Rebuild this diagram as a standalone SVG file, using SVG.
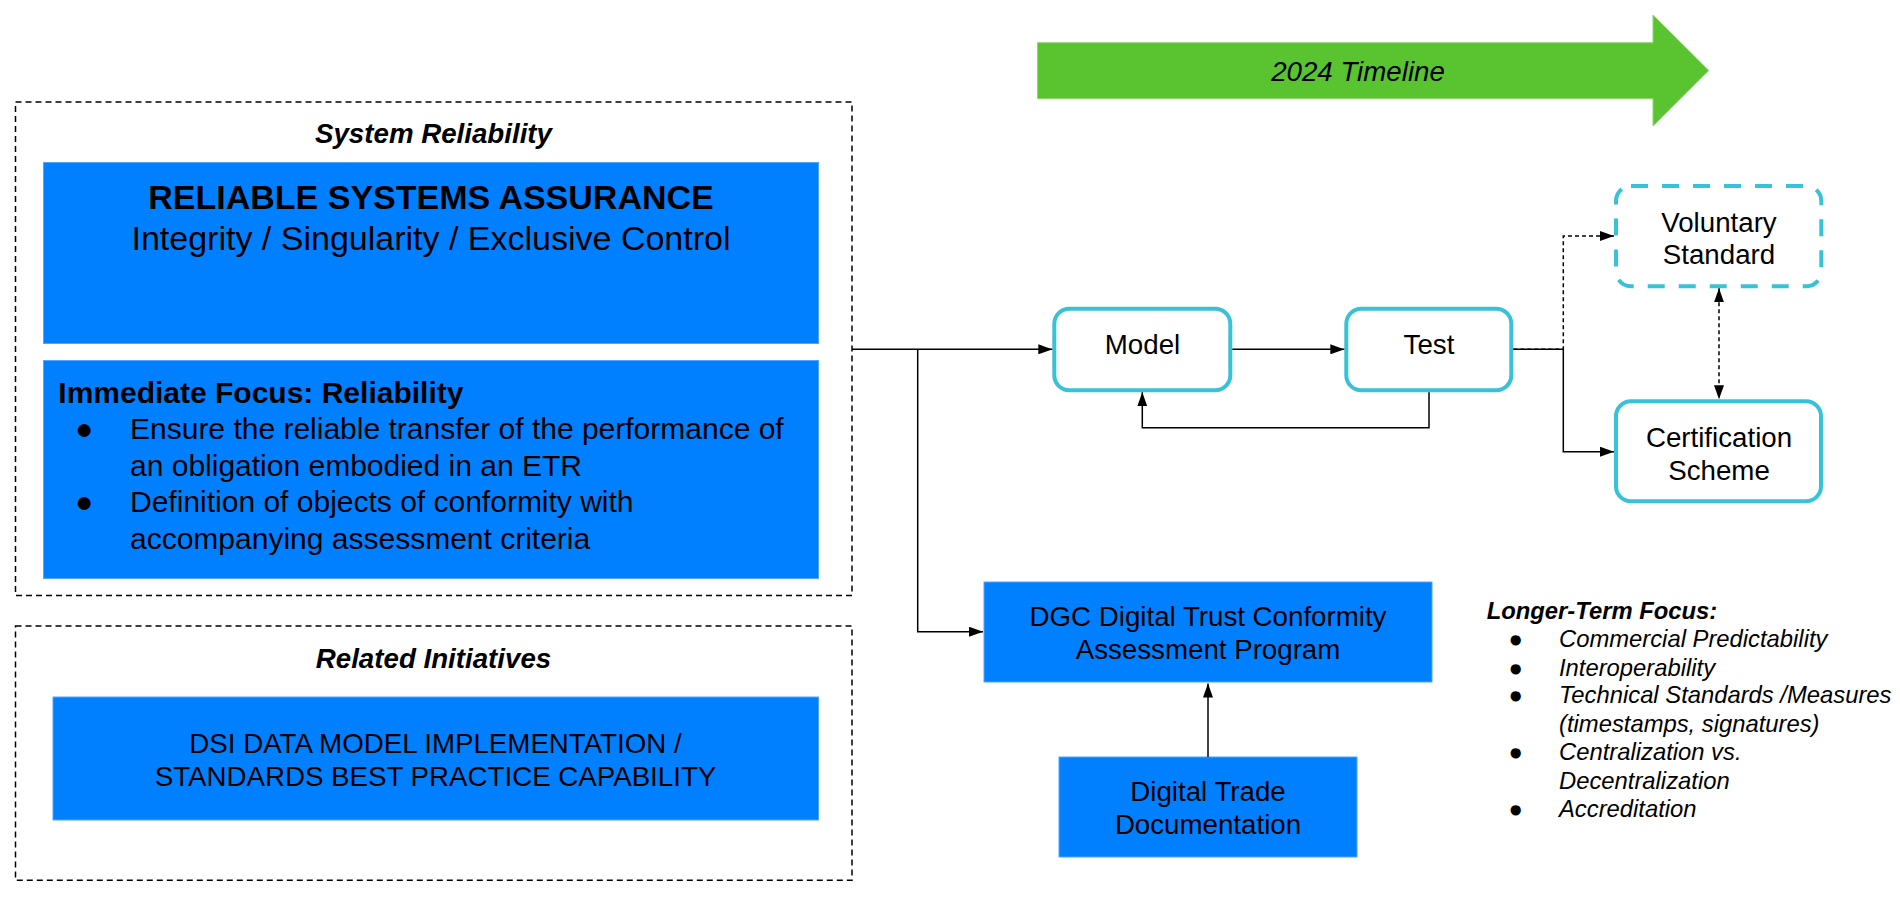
<svg xmlns="http://www.w3.org/2000/svg" width="1900" height="902" viewBox="0 0 1900 902">
<style>
text{font-family:"Liberation Sans",Arial,Helvetica,sans-serif;fill:#000}
.t{font-size:27.7px;text-anchor:middle}
.h{font-size:27.7px;font-weight:bold;font-style:italic;text-anchor:middle}
.blue{fill:#007FFF;stroke:#4fa6ff;stroke-width:1}
.grp{fill:none;stroke:#000;stroke-width:1.5;stroke-dasharray:6 4}
.node{fill:#fff;stroke:#37C2D8;stroke-width:4}
.c{fill:none;stroke:#000;stroke-width:1.5}
.cd{fill:none;stroke:#000;stroke-width:1.5;stroke-dasharray:4 3}
.lt{font-size:23.8px;font-style:italic}
</style>
<defs>
<marker id="ah" markerUnits="userSpaceOnUse" markerWidth="14" markerHeight="10" refX="14" refY="5" orient="auto">
<path d="M0,0 L14,5 L0,10 z" fill="#000"/>
</marker>
<marker id="ahs" markerUnits="userSpaceOnUse" markerWidth="14" markerHeight="10" refX="14" refY="5" orient="auto-start-reverse">
<path d="M0,0 L14,5 L0,10 z" fill="#000"/>
</marker>
</defs>
<rect width="1900" height="902" fill="#fff"/>

<g id="timeline">
<polygon points="1037.5,42.7 1653,42.7 1653,15 1708.8,70.5 1653,126 1653,98.7 1037.5,98.7" fill="#59C42F" stroke="#8ed66f" stroke-width="1"/>
<text x="1358" y="81" style="font-size:27.7px;font-style:italic;text-anchor:middle">2024 Timeline</text>
</g>

<g id="system-reliability">
<rect class="grp" x="15.5" y="102" width="836.5" height="493.5"/>
<text class="h" x="433.5" y="143.3">System Reliability</text>
</g>

<g id="reliable-systems-assurance">
<rect class="blue" x="43.5" y="162.5" width="775" height="181"/>
<text x="431" y="209" style="font-size:34px;font-weight:bold;text-anchor:middle">RELIABLE SYSTEMS ASSURANCE</text>
<text x="431" y="250" style="font-size:34px;text-anchor:middle">Integrity / Singularity / Exclusive Control</text>
</g>

<g id="immediate-focus">
<rect class="blue" x="43.5" y="360.5" width="775" height="218"/>
<text x="58.3" y="403.3" style="font-size:30px;font-weight:bold">Immediate Focus: Reliability</text>
<g style="font-size:30px">
<text x="84" y="439.3" text-anchor="middle">●</text>
<text x="130" y="439.3">Ensure the reliable transfer of the performance of</text>
<text x="130" y="475.8">an obligation embodied in an ETR</text>
<text x="84" y="512.3" text-anchor="middle">●</text>
<text x="130" y="512.3">Definition of objects of conformity with</text>
<text x="130" y="548.5">accompanying assessment criteria</text>
</g>
</g>

<g id="related-initiatives">
<rect class="grp" x="15.5" y="626" width="836.5" height="254.3"/>
<text class="h" x="433.5" y="667.7">Related Initiatives</text>
</g>

<g id="dsi-data-model">
<rect class="blue" x="53" y="697" width="765.5" height="123"/>
<text class="t" x="435.5" y="752.7">DSI DATA MODEL IMPLEMENTATION /</text>
<text class="t" x="435.5" y="785.5">STANDARDS BEST PRACTICE CAPABILITY</text>
</g>

<g id="model">
<rect class="node" x="1054.3" y="308.7" width="176" height="81.6" rx="15"/>
<text class="t" x="1142.5" y="354">Model</text>
</g>

<g id="test">
<rect class="node" x="1346.3" y="308.7" width="165" height="81.6" rx="15"/>
<text class="t" x="1429" y="354">Test</text>
</g>

<g id="voluntary-standard">
<rect class="node" x="1616" y="186" width="205.3" height="100.3" rx="15" stroke-dasharray="17 14"/>
<text class="t" x="1719" y="231.7">Voluntary</text>
<text class="t" x="1719" y="264.3">Standard</text>
</g>

<g id="certification-scheme">
<rect class="node" x="1616" y="401.3" width="205" height="100" rx="15"/>
<text class="t" x="1719" y="447.3">Certification</text>
<text class="t" x="1719" y="480">Scheme</text>
</g>

<g id="dgc-program">
<rect class="blue" x="984" y="582" width="448" height="100"/>
<text class="t" x="1208" y="625.7">DGC Digital Trust Conformity</text>
<text class="t" x="1208" y="659">Assessment Program</text>
</g>

<g id="digital-trade-documentation">
<rect class="blue" x="1059" y="757" width="298" height="100"/>
<text class="t" x="1208" y="800.7">Digital Trade</text>
<text class="t" x="1208" y="834">Documentation</text>
</g>

<g id="longer-term-focus">
<text x="1486.7" y="619" style="font-size:23.8px;font-weight:bold;font-style:italic">Longer-Term Focus:</text>
<g style="font-size:23.8px">
<text x="1515.7" y="646.7" text-anchor="middle">●</text>
<text x="1515.7" y="675.7" text-anchor="middle">●</text>
<text x="1515.7" y="703.3" text-anchor="middle">●</text>
<text x="1515.7" y="760" text-anchor="middle">●</text>
<text x="1515.7" y="817.3" text-anchor="middle">●</text>
</g>
<text class="lt" x="1559" y="646.7">Commercial Predictability</text>
<text class="lt" x="1559" y="675.7">Interoperability</text>
<text class="lt" x="1559" y="703.3">Technical Standards /Measures</text>
<text class="lt" x="1559" y="731.7">(timestamps, signatures)</text>
<text class="lt" x="1559" y="760">Centralization vs.</text>
<text class="lt" x="1559" y="789">Decentralization</text>
<text class="lt" x="1559" y="817.3">Accreditation</text>
</g>

<g id="connectors">
<path class="c" d="M852,349.3 H1052.3" marker-end="url(#ah)"/>
<path class="c" d="M917.7,349.3 V631.7 H983" marker-end="url(#ah)"/>
<path class="c" d="M1232.3,349.3 H1344.3" marker-end="url(#ah)"/>
<path class="c" d="M1429,392.3 V427.7 H1142.3 V392.3" stroke="#333" marker-end="url(#ah)"/>
<path class="c" d="M1513.3,349.3 H1563.3 V451.7 H1614" marker-end="url(#ah)"/>
<path class="cd" d="M1513.3,349.3 H1563.3 V236 H1614" marker-end="url(#ah)"/>
<path class="cd" d="M1719,288.3 V399.3" marker-start="url(#ahs)" marker-end="url(#ahs)"/>
<path class="c" d="M1208,757 V683.5" stroke="#333" marker-end="url(#ah)"/>
</g>
</svg>
